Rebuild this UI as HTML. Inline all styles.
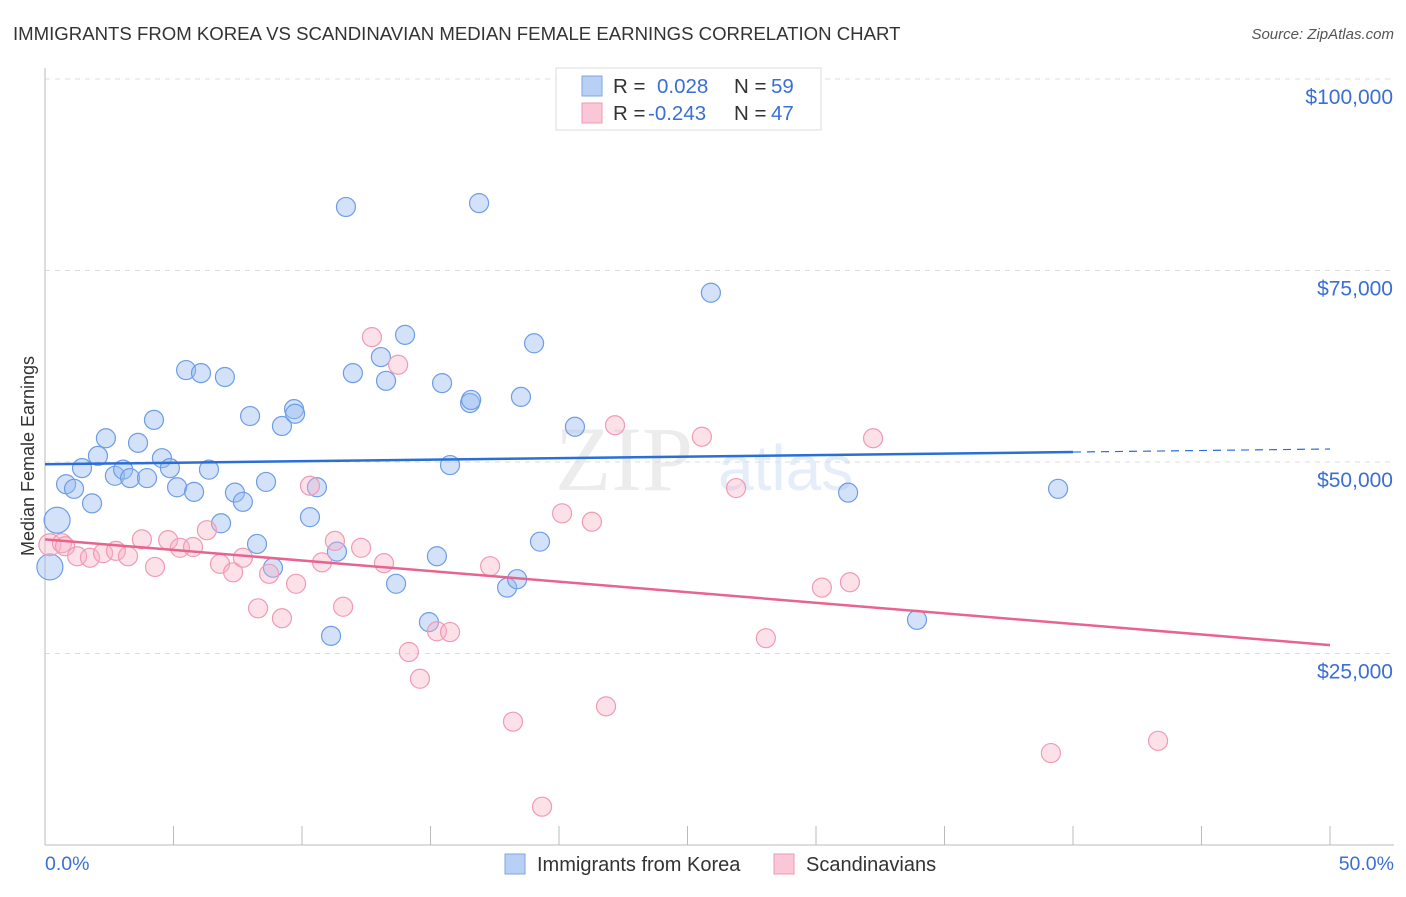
<!DOCTYPE html>
<html><head><meta charset="utf-8"><style>
body{margin:0;background:#fff;font-family:"Liberation Sans",sans-serif}
</style></head><body>
<svg id="chart" width="1406" height="892" xmlns="http://www.w3.org/2000/svg" font-family="Liberation Sans, sans-serif">
<text x="13" y="40" font-size="18.6" fill="#333">IMMIGRANTS FROM KOREA VS SCANDINAVIAN MEDIAN FEMALE EARNINGS CORRELATION CHART</text>
<text x="1394" y="39" font-size="15" fill="#555" font-style="italic" text-anchor="end">Source: ZipAtlas.com</text>
<text transform="translate(34,456) rotate(-90)" font-size="18" fill="#333" text-anchor="middle">Median Female Earnings</text>
<g opacity="0.18">
<text x="555" y="490" font-size="92" font-family="Liberation Serif, serif" fill="#999">ZIP</text>
<text x="718" y="490" font-size="64" fill="#6f9fe0">atlas</text>
</g>
<g id="grid"></g><g id="axes"></g><g id="marks"></g>
<g>
<rect x="556" y="68" width="265" height="62" fill="#fff" stroke="#ddd"/>
<rect x="582" y="76" width="20" height="20" fill="#b8d0f4" stroke="#7fa6e3"/>
<rect x="582" y="103" width="20" height="20" fill="#f9c7d6" stroke="#ee9ab5"/>
<text x="613" y="93" font-size="20.5" fill="#333">R =</text>
<text x="657" y="93" font-size="20.5" fill="#3a6fd4">0.028</text>
<text x="734" y="93" font-size="20.5" fill="#333">N =</text>
<text x="771" y="93" font-size="20.5" fill="#3a6fd4">59</text>
<text x="613" y="120" font-size="20.5" fill="#333">R =</text>
<text x="648" y="120" font-size="20.5" fill="#3a6fd4">-0.243</text>
<text x="734" y="120" font-size="20.5" fill="#333">N =</text>
<text x="771" y="120" font-size="20.5" fill="#3a6fd4">47</text>
</g>
<g>
<rect x="505" y="854" width="20" height="20" fill="#b8d0f4" stroke="#7fa6e3"/>
<text x="537" y="871" font-size="20" fill="#333">Immigrants from Korea</text>
<rect x="774" y="854" width="20" height="20" fill="#f9c7d6" stroke="#ee9ab5"/>
<text x="806" y="871" font-size="20" fill="#333">Scandinavians</text>
</g>
</svg>
<script>
const blueX=[0.47,0.19,0.82,1.13,1.44,1.83,2.06,2.37,2.72,3.04,3.31,3.62,3.97,4.24,4.55,4.86,5.14,5.49,5.80,6.07,6.38,6.85,7.00,7.39,7.70,7.98,8.25,8.60,8.87,9.22,9.69,9.73,10.31,10.58,11.13,11.36,11.71,11.98,13.07,13.27,13.66,14.01,14.94,15.25,15.45,15.76,16.54,16.58,16.89,17.98,18.37,18.52,19.03,19.26,20.62,25.91,31.25,33.93,39.42];
const blueY=[42.4,36.3,47.1,46.5,49.2,44.6,50.8,53.1,48.2,49.0,47.9,52.5,47.9,55.5,50.5,49.2,46.7,62.0,46.1,61.6,49.0,42.0,61.1,46.0,44.8,56.0,39.3,47.4,36.2,54.7,56.9,56.3,42.8,46.7,27.3,38.3,83.3,61.6,63.7,60.6,34.1,66.6,29.1,37.7,60.3,49.6,57.7,58.1,83.8,33.6,34.7,58.5,65.5,39.6,54.6,72.1,46.0,29.4,46.5];
const pinkX=[0.19,0.66,0.78,1.25,1.75,2.26,2.76,3.23,3.77,4.28,4.79,5.25,5.76,6.30,6.81,7.32,7.70,8.29,8.72,9.22,9.77,10.31,10.78,11.28,11.60,12.30,12.72,13.19,13.74,14.16,14.59,15.25,15.76,17.32,18.21,19.34,20.12,21.28,21.83,22.18,25.56,26.89,28.05,30.23,31.32,32.22,39.14,43.31];
const pinkY=[39.2,39.4,39.0,37.7,37.5,38.1,38.4,37.7,39.9,36.3,39.8,38.8,38.9,41.1,36.7,35.6,37.5,30.9,35.4,29.6,34.1,46.9,36.9,39.7,31.1,38.8,66.3,36.8,62.7,25.2,21.7,27.9,27.8,36.4,16.1,5.0,43.3,42.2,18.1,54.8,53.3,46.6,27.0,33.6,34.3,53.1,12.0,13.6];
const blueTrend=[49.7,51.7]; // value at 0% and 50%
const pinkTrend=[39.9,26.1];
const yTicks=[25,50,75,100];
const yTickLabels=["$25,000","$50,000","$75,000","$100,000"];
const xLabels=["0.0%","50.0%"];

const NS="http://www.w3.org/2000/svg";
const X=v=>45+v/50*1285;
const Y=v=>845-v/25*191.5;
function mk(tag,attrs,parent){const e=document.createElementNS(NS,tag);for(const k in attrs)e.setAttribute(k,attrs[k]);parent.appendChild(e);return e;}
const grid=document.getElementById('grid'),axes=document.getElementById('axes'),marks=document.getElementById('marks');
yTicks.forEach((t,i)=>{
 const l=mk('line',{x1:45,x2:1394,y1:Y(t),y2:Y(t),stroke:'#ddd','stroke-dasharray':'5,5'},grid);
 
 
 const tx=mk('text',{x:1393,y:Y(t)+25,'font-size':21,fill:'#3a6fd4','text-anchor':'end'},axes);
 tx.textContent=yTickLabels[i];
 
 
});
const ax=mk('line',{x1:45,x2:1394,y1:845,y2:845,stroke:'#bbb'},axes);


const ay=mk('line',{x1:45,x2:45,y1:68,y2:845,stroke:'#bbb'},axes);


for(let k=1;k<=10;k++){
 const t=mk('line',{x1:X(k*5),x2:X(k*5),y1:826,y2:845,stroke:'#bbb'},axes);
 
 
}
const xl0=mk('text',{x:45,y:870,'font-size':19.5,fill:'#3a6fd4'},axes);xl0.textContent=xLabels[0];


const xl1=mk('text',{x:1394,y:870,'font-size':19.5,fill:'#3a6fd4','text-anchor':'end'},axes);xl1.textContent=xLabels[1];



blueX.forEach((x,i)=>{
 const c=mk('circle',{cx:X(x),cy:Y(blueY[i]),r:i<2?13:9.5,fill:'rgba(150,185,240,0.42)',stroke:'#6d9de6','stroke-width':1.2},marks);
 
 
});
pinkX.forEach((x,i)=>{
 const c=mk('circle',{cx:X(x),cy:Y(pinkY[i]),r:i<1?11:9.5,fill:'rgba(248,175,198,0.38)',stroke:'#f09ab6','stroke-width':1.2},marks);
 
 
});
const bAt=x=>blueTrend[0]+(blueTrend[1]-blueTrend[0])*x/50;
const bl=mk('line',{x1:X(0),y1:Y(bAt(0)),x2:X(40),y2:Y(bAt(40)),stroke:'#2a6fd6','stroke-width':2.5},marks);


const bd=mk('line',{x1:X(40),y1:Y(bAt(40)),x2:X(50),y2:Y(bAt(50)),stroke:'#2a6fd6','stroke-width':1.2,'stroke-dasharray':'8,6'},marks);


const pl=mk('line',{x1:X(0),y1:Y(pinkTrend[0]),x2:X(50),y2:Y(pinkTrend[1]),stroke:'#e8648f','stroke-width':2.5},marks);


</script>
</body></html>
